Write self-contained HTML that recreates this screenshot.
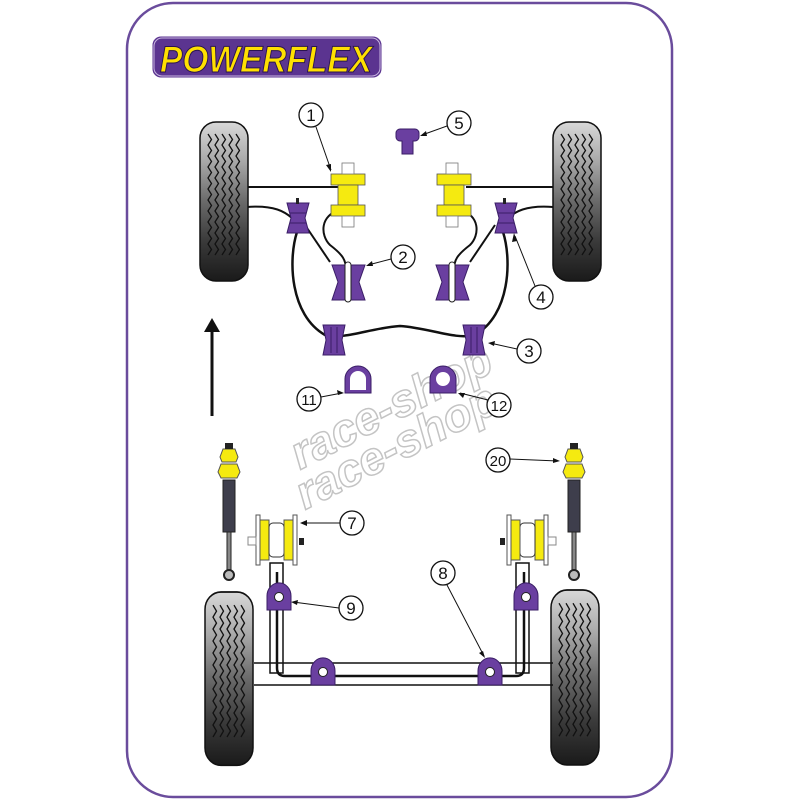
<!DOCTYPE html>
<html><head><meta charset="utf-8"><style>html,body{margin:0;padding:0;background:#fff}svg{display:block}</style></head>
<body>
<svg width="800" height="800" viewBox="0 0 800 800" xmlns="http://www.w3.org/2000/svg" font-family="Liberation Sans, sans-serif">
<defs>
<linearGradient id="tg" x1="0" y1="0" x2="0" y2="1">
<stop offset="0" stop-color="#d8d8d8"/><stop offset="0.25" stop-color="#a8a8a8"/><stop offset="0.5" stop-color="#6a6a6a"/><stop offset="0.75" stop-color="#3a3a3a"/><stop offset="1" stop-color="#1a1a1a"/>
</linearGradient>
<path id="zz" fill="none" stroke="#111" stroke-width="1.3" d="M0,0 l3.5,5.5 l-3.5,5.5 l3.5,5.5 l-3.5,5.5 l3.5,5.5 l-3.5,5.5 l3.5,5.5 l-3.5,5.5 l3.5,5.5 l-3.5,5.5 l3.5,5.5 l-3.5,5.5 l3.5,5.5 l-3.5,5.5 l3.5,5.5 l-3.5,5.5 l3.5,5.5 l-3.5,5.5 l3.5,5.5 l-3.5,5.5 l3.5,5.5 l-3.5,5.5"/>
<g id="hg"><path d="M0,0 h22 l-4,15 l4,15 h-22 l4,-15 z" fill="#6a3fa0" stroke="#3a1e66" stroke-width="1"/><line x1="3" y1="10" x2="19" y2="10" stroke="#3a1e66"/><line x1="3" y1="20" x2="19" y2="20" stroke="#3a1e66"/></g>
<g id="yb"><rect x="0" y="0" width="34" height="11" fill="#f5ea10" stroke="#555" stroke-width="0.8"/><rect x="7" y="11" width="20" height="20" fill="#f5ea10" stroke="#555" stroke-width="0.8"/><rect x="0" y="31" width="34" height="11" fill="#f5ea10" stroke="#555" stroke-width="0.8"/></g>
<g id="c2"><path d="M0,0 h33 l-6,17 l6,18 h-33 l6,-18 z" fill="#6a3fa0" stroke="#3a1e66"/><rect x="13" y="-3" width="6" height="40" rx="3" fill="#fff" stroke="#222" stroke-width="1"/></g>
<g id="c3"><path d="M0,0 h22 l-3,15 l3,15 h-22 l3,-15 z" fill="#6a3fa0" stroke="#3a1e66"/><line x1="8" y1="2" x2="8" y2="28" stroke="#3a1e66"/><line x1="14" y1="2" x2="14" y2="28" stroke="#3a1e66"/></g>
<g id="cup"><path d="M0,28 v-14 a11,12 0 0 1 24,0 v14 z" fill="#6a3fa0" stroke="#3a1e66"/><circle cx="12" cy="15" r="4.5" fill="#fff" stroke="#222"/></g>
<g id="shock"><path d="M3,2 h12 l3,8 l-2,5 h-14 l-2,-5 z" fill="#f5ea10" stroke="#555"/><path d="M1,17 h16 l3,8 l-3,6 h-16 l-3,-6 z" fill="#f5ea10" stroke="#555"/><rect x="5" y="-4" width="8" height="6" fill="#222"/><rect x="3" y="33" width="12" height="52" fill="#3e3e4c" stroke="#222"/><rect x="7" y="85" width="4" height="40" fill="#888" stroke="#222"/><circle cx="9" cy="128" r="5" fill="#bbb" stroke="#222" stroke-width="2"/></g>
<g id="b7"><rect x="0" y="0" width="4" height="50" fill="#fff" stroke="#555"/><rect x="4" y="5" width="9" height="40" fill="#f5ea10" stroke="#555"/><rect x="13" y="8" width="15" height="34" rx="4" fill="#fff" stroke="#333"/><rect x="28" y="5" width="9" height="40" fill="#f5ea10" stroke="#555"/><rect x="37" y="0" width="4" height="50" fill="#fff" stroke="#555"/><rect x="-8" y="22" width="8" height="8" fill="#fff" stroke="#888"/><rect x="43" y="23" width="5" height="7" fill="#222"/></g>
<g id="tire"><rect x="200" y="122" width="48" height="159" rx="16" fill="url(#tg)" stroke="#111" stroke-width="1.5"/>
<use href="#zz" x="208" y="134"/><use href="#zz" x="215" y="134"/><use href="#zz" x="222" y="134"/><use href="#zz" x="229" y="134"/><use href="#zz" x="236" y="134"/></g>
</defs>

<rect x="127" y="3" width="545" height="794" rx="46" fill="#fff" stroke="#6a4c9c" stroke-width="2.5"/>

<rect x="152" y="36" width="230" height="42" rx="9" fill="#5b3490" stroke="#fff" stroke-width="1"/>
<rect x="154" y="38" width="226" height="38" rx="8" fill="none" stroke="#c8b6e0" stroke-width="1"/>
<text x="160" y="72" font-size="37" font-weight="bold" font-style="italic" fill="#ffe000" stroke="#2a1450" stroke-width="1" textLength="212" lengthAdjust="spacingAndGlyphs">POWERFLEX</text>

<g fill="none" stroke="#c4c4c4" stroke-width="1.5" font-size="46" font-weight="bold" font-style="italic">
<text x="300" y="470" transform="rotate(-27 300 470)">race-shop</text>
<text x="305" y="510" transform="rotate(-27 305 510)">race-shop</text>
</g>

<g stroke="#111" stroke-width="2" fill="none">
<line x1="247" y1="187" x2="340" y2="187"/><line x1="466" y1="187" x2="553" y2="187"/>
<path d="M247,207 C275,205 285,212 292,218"/>
<path d="M553,207 C525,205 515,212 508,218"/>
<path d="M305,225 L330,262"/><path d="M495,225 L470,262"/>
<path d="M340,210 C320,215 320,235 330,245 C343,255 346,260 346,270"/>
<path d="M460,210 C480,215 480,235 470,245 C457,255 454,260 454,270"/>
<path d="M297,232 C288,260 290,315 325,335 C345,340 370,328 400,326 C430,328 455,340 475,335 C510,315 512,260 503,232" stroke-width="2.5"/>
</g>
<use href="#yb" x="331" y="174"/><use href="#yb" x="437" y="174"/>
<g stroke="#777" fill="#fff" stroke-width="0.8"><rect x="342" y="163" width="12" height="11"/><rect x="342" y="216" width="12" height="11"/><rect x="446" y="163" width="12" height="11"/><rect x="446" y="216" width="12" height="11"/></g>
<use href="#hg" x="287" y="203"/><use href="#hg" x="495" y="203"/>
<rect x="296" y="198" width="3" height="6" fill="#222"/><rect x="503" y="198" width="3" height="6" fill="#222"/>
<use href="#c2" x="332" y="265"/><use href="#c2" x="436" y="265"/>
<use href="#c3" x="323" y="325"/><use href="#c3" x="463" y="325"/>
<path d="M345,393 v-14 a13,13 0 0 1 26,0 v14 z" fill="#6a3fa0" stroke="#3a1e66"/><path d="M350,390 v-11 a8,8 0 0 1 16,0 v11 z" fill="#fff"/>
<path d="M430,393 v-14 a13,13 0 0 1 26,0 v14 z" fill="#6a3fa0" stroke="#3a1e66"/><circle cx="443" cy="379" r="7" fill="#fff"/>
<path d="M396,137 v-4 a4,4 0 0 1 4,-4 h15 a4,4 0 0 1 4,4 v4 a4,4 0 0 1 -4,4 h-2 v13 h-11 v-13 h-2 a4,4 0 0 1 -4,-4z" fill="#6a3fa0" stroke="#3a1e66"/>

<line x1="212" y1="416" x2="212" y2="330" stroke="#111" stroke-width="3"/>
<path d="M204,332 L212,318 L220,332 z" fill="#111"/>

<use href="#tire"/>
<use href="#tire" x="353" y="0"/>
<use href="#tire" transform="translate(5,592) scale(1,1.09) translate(0,-122)"/>
<use href="#tire" transform="translate(351,590) scale(1,1.1) translate(0,-122)"/>

<use href="#shock" x="220" y="447"/><use href="#shock" x="565" y="447"/>
<g stroke="#111" stroke-width="1.5" fill="#fff">
<rect x="270" y="563" width="13" height="110"/><rect x="516" y="563" width="13" height="110"/>
</g>
<line x1="254" y1="663" x2="553" y2="663" stroke="#111" stroke-width="1.5"/>
<line x1="254" y1="685" x2="553" y2="685" stroke="#111" stroke-width="1.5"/>
<path d="M277,572 V668 Q277,676 285,676 H516 Q524,676 524,668 V572" fill="none" stroke="#111" stroke-width="2.5"/>
<use href="#b7" x="256" y="515"/>
<use href="#b7" x="505" y="515" transform="translate(1053,0) scale(-1,1)"/>
<use href="#cup" x="267" y="582"/><use href="#cup" x="514" y="582"/>
<use href="#cup" x="311" y="657"/><use href="#cup" x="478" y="657"/>

<g fill="#fff" stroke="#111" stroke-width="1.3">
<circle cx="311" cy="115" r="12"/><circle cx="459" cy="123" r="12"/><circle cx="403" cy="257" r="12"/><circle cx="541" cy="297" r="12"/><circle cx="529" cy="351" r="12"/><circle cx="309" cy="399" r="12"/><circle cx="499" cy="405" r="12"/><circle cx="498" cy="460" r="12"/><circle cx="352" cy="523" r="12"/><circle cx="443" cy="573" r="12"/><circle cx="351" cy="608" r="12"/>
</g>
<g font-size="17" fill="#111" text-anchor="middle">
<text x="311" y="121">1</text><text x="459" y="129">5</text><text x="403" y="263">2</text><text x="541" y="303">4</text><text x="529" y="357">3</text><text x="309" y="405" font-size="15">11</text><text x="499" y="411" font-size="15">12</text><text x="498" y="466" font-size="15">20</text><text x="352" y="529">7</text><text x="443" y="579">8</text><text x="351" y="614">9</text>
</g>
<g stroke="#111" stroke-width="1" fill="none">
<line x1="316" y1="127" x2="331" y2="170"/><line x1="447" y1="126" x2="422" y2="135"/><line x1="391" y1="259" x2="368" y2="265"/><line x1="535" y1="286" x2="515" y2="236"/><line x1="517" y1="349" x2="490" y2="343"/><line x1="321" y1="397" x2="342" y2="393"/><line x1="488" y1="400" x2="460" y2="393"/><line x1="510" y1="459" x2="558" y2="461"/><line x1="340" y1="523" x2="302" y2="523"/><line x1="447" y1="585" x2="484" y2="656"/><line x1="339" y1="608" x2="293" y2="602"/>
</g>
<g fill="#111">
<path d="M331,172 l-5,-7 l5,-1z"/><path d="M420,136 l6,-5 l1,5z"/><path d="M366,266 l6,-5 l1,5z"/><path d="M514,233 l3,8 l-5,1z"/><path d="M488,343 l7,-2 l-1,5z"/><path d="M344,393 l-7,-3 l1,5z"/><path d="M458,393 l7,0 l-2,5z"/><path d="M560,461 l-7,-3 l0,5z"/><path d="M300,523 l7,-3 l0,6z"/><path d="M485,658 l-6,-5 l4,-2z"/><path d="M291,602 l7,-2 l-1,5z"/>
</g>
</svg>
</body></html>
